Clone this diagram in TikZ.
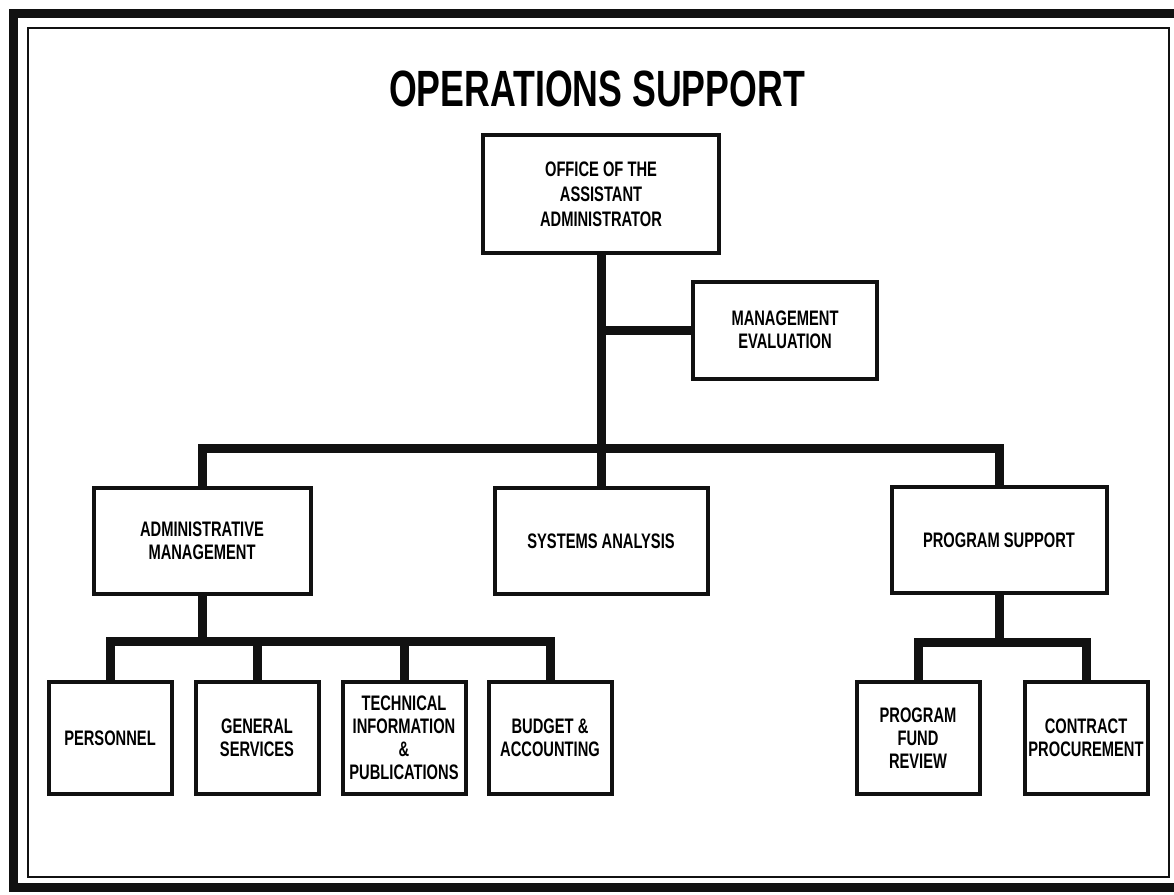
\documentclass[tikz,border=0pt]{standalone}
\usepackage{fontspec}
\newfontfamily\orgfont[FakeStretch=0.7]{Liberation Sans}
\usepackage{xcolor}
\definecolor{cInk}{HTML}{111111}
\usetikzlibrary{positioning}
\tikzset{
  org-box/.style={draw=cInk,line width=4pt,fill=white,inner sep=0pt,align=center,
    font=\orgfont\bfseries\fontsize{21}{23}\selectfont},
  org-unit/.style={org-box,minimum width=123pt,minimum height=112pt},
  org-mid/.style={org-box,minimum height=106pt},
  link/.style={draw=cInk,line width=9pt},
  frame-outer/.style={draw=cInk,line width=9pt},
  frame-inner/.style={draw=cInk,line width=2.5pt},
}

\begin{document}
\begin{tikzpicture}[x=1pt,y=-1pt]
  \useasboundingbox (0,0) rectangle (1174,894);
  % frames
  \draw[frame-outer] (1190,13.5) -- (13.5,13.5) -- (13.5,887) -- (1190,887);
  \draw[frame-inner] (28,28) rectangle (1169,877);
  \node[anchor=base,font=\orgfont\bfseries\fontsize{51}{56}\selectfont] (title) at (597,106)
    {OPERATIONS SUPPORT};
  % boxes
  \node[org-box,minimum width=236pt,minimum height=118pt,
    font=\orgfont\bfseries\fontsize{21}{25}\selectfont] (aa) at (601,194)
    {OFFICE OF THE\\ASSISTANT\\ADMINISTRATOR};
  \node[org-box,minimum width=184pt,minimum height=97pt] (meval) at (785,330)
    {MANAGEMENT\\EVALUATION};
  \node[org-mid,minimum width=217pt] (admin) at (202,541) {ADMINISTRATIVE\\MANAGEMENT};
  \node[org-mid,minimum width=213pt] (sys)   at (601,541) {SYSTEMS ANALYSIS};
  \node[org-mid,minimum width=215pt] (prog)  at (999,540) {PROGRAM SUPPORT};
  \node[org-unit] (per) at (110,738) {PERSONNEL};
  \node[org-unit,right=20pt of per]  (gen)  {GENERAL\\SERVICES};
  \node[org-unit,right=20pt of gen]  (tech) {TECHNICAL\\INFORMATION\\\&\\PUBLICATIONS};
  \node[org-unit,right=19pt of tech] (bud)  {BUDGET \&\\ACCOUNTING};
  \node[org-unit] (pfr) at (918,738) {PROGRAM\\FUND\\REVIEW};
  \node[org-unit,right=41pt of pfr]  (cp)   {CONTRACT\\PROCUREMENT};
  % buses
  \coordinate (bus)  at (0,448);
  \coordinate (abus) at (0,641);
  \coordinate (pbus) at (0,642);
  % links
  \draw[link] (aa.south) -- (sys.north);
  \draw[link] (aa.south |- meval.west) -- (meval.west);
  \draw[link] (admin.north) -- (admin.north |- bus) -- (prog.north |- bus) -- (prog.north);
  \draw[link] (admin.south) -- (admin.south |- abus);
  \draw[link] (per.north) -- (per.north |- abus) -- (bud.north |- abus) -- (bud.north);
  \foreach \n in {gen,tech}
    \draw[link] (\n.north) -- (\n.north |- abus);
  \draw[link] (prog.south) -- (prog.south |- pbus);
  \draw[link] (pfr.north) -- (pfr.north |- pbus) -- (cp.north |- pbus) -- (cp.north);
\end{tikzpicture}
\end{document}
